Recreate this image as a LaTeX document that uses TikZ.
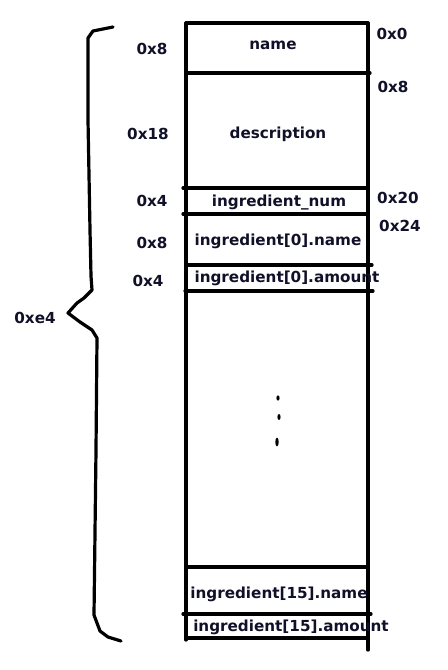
\documentclass[tikz,border=0pt]{standalone}
\usepackage{fontspec}
\setmainfont{DejaVu Sans}
\definecolor{txt}{HTML}{101028}
\begin{document}
\begin{tikzpicture}[x=0.75pt,y=-0.75pt,
  wall/.style={line width=2.4pt,line cap=round},
  lbl/.style={anchor=base,inner sep=0pt,text=txt,font=\bfseries\fontsize{11.4}{13}\selectfont},
  bracepath/.style={line width=2.4pt,line cap=round,line join=round}]
\useasboundingbox (0,0) rectangle (447,670);
% box walls
\draw[wall] (186,23) -- (186,640);
\draw[wall] (368,23) -- (368,650);
\draw[wall] (186,23) -- (368,23);
\draw[wall] (186,73) -- (370,73);
\draw[wall] (183,188) -- (368,188);
\draw[wall] (183,214) -- (368,214);
\draw[wall] (186,265) -- (372,265);
\draw[wall] (185,291) -- (373,291);
\draw[wall] (186,567) -- (368,567);
\draw[wall] (183,614) -- (371,614);
\draw[wall] (186,638) -- (368,638);
% field names
\node[lbl] (fname) at (273,50) {name};
\node[lbl] (fdesc) at (278,139) {description};
\node[lbl] (fnum) at (279,207) {ingredient\_num};
\node[lbl] (f0name) at (278,245) {ingredient[0].name};
\node[lbl] (f0amt) at (287,282) {ingredient[0].amount};
\node[lbl] (f15name) at (279,598) {ingredient[15].name};
\node[lbl] (f15amt) at (291,631) {ingredient[15].amount};
% sizes
\node[lbl] (s1) at (152,55) {0x8};
\node[lbl] (s2) at (148,140) {0x18};
\node[lbl] (s3) at (152,206) {0x4};
\node[lbl] (s4) at (152,248) {0x8};
\node[lbl] (s5) at (148,286) {0x4};
\node[lbl] (stot) at (35,323) {0xe4};
% offsets
\node[lbl] (o1) at (392,40) {0x0};
\node[lbl] (o2) at (393,93) {0x8};
\node[lbl] (o3) at (398,204) {0x20};
\node[lbl] (o4) at (400,232) {0x24};
% dots
\fill (278,398) ellipse [x radius=1.6, y radius=2.6];
\fill (279,417) ellipse [x radius=1.6, y radius=3];
\fill (277,442) ellipse [x radius=1.7, y radius=4.5];
% brace
\draw[bracepath] (113,27) -- (93,31) -- (88,38) -- (88,120) -- (90,230) -- (91,276) -- (92,290)
  -- (84,298) -- (77,303) -- (68,313) -- (80,322) -- (92,330) -- (97,338) -- (96,450) -- (94,615)
  -- (100,631) -- (108,637) -- (121,641);
\end{tikzpicture}
\end{document}
